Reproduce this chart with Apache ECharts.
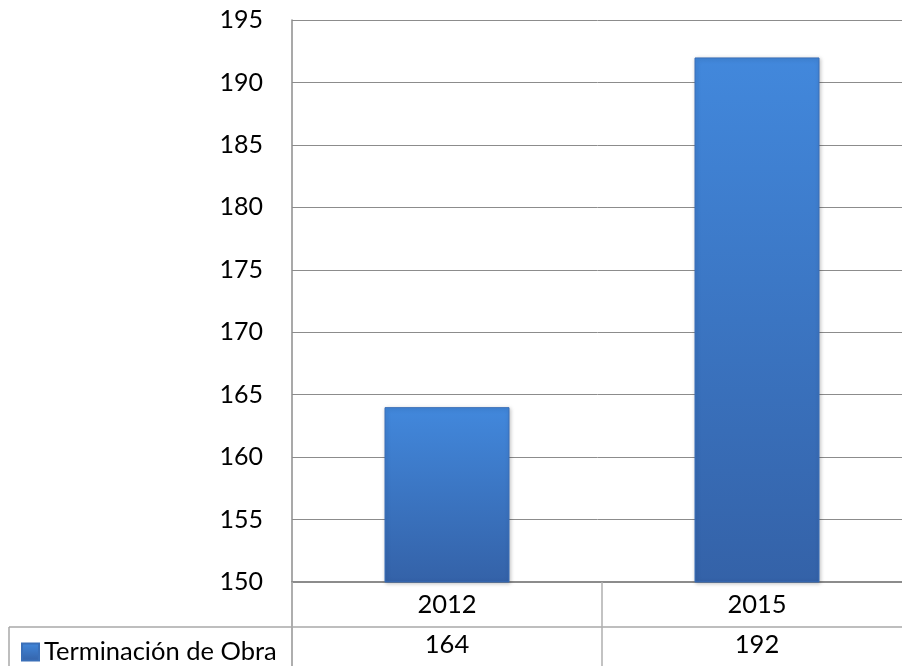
<!DOCTYPE html>
<html>
<head>
<meta charset="utf-8">
<script src="https://cdn.jsdelivr.net/npm/echarts@6/dist/echarts.min.js"></script>
<style>
    html, body { margin: 0; padding: 0; background: #fff; }
    #chart { width: 902px; height: 666px; }
</style>
</head>
<body>
<div id="chart"></div>
<script>
    // datos
    const years = ['2012', '2015'];
    const obras = [164, 192];
    const seriesName = 'Terminación de Obra';

    const font = 'Lato, "Open Sans", sans-serif';
    const lineGray = '#8c8c8c';

    const chart = echarts.init(document.getElementById('chart'));
    chart.setOption({
        animation: false,
        grid: {
            left: 292,
            top: 20,
            width: 620,
            height: 562,
            containLabel: false,
            outerBoundsMode: 'none'
        },
        legend: {
            data: [seriesName],
            left: 16,
            top: 634,
            itemWidth: 17,
            itemHeight: 17,
            itemGap: 6,
            icon: 'rect',
            textStyle: { fontFamily: font, fontSize: 25.5, color: '#000' }
        },
        xAxis: [
            {
                type: 'category',
                data: years,
                axisLine: { lineStyle: { color: lineGray, width: 2 } },
                axisTick: { show: true, inside: false, length: 84, lineStyle: { color: '#b0b0b0', width: 1.5 } },
                axisLabel: { margin: 10, fontFamily: font, fontSize: 25.5, color: '#000' }
            },
            {
                type: 'category',
                position: 'bottom',
                offset: 0,
                data: obras.map(String),
                axisLine: { show: false },
                axisTick: { show: false },
                axisLabel: { margin: 50, fontFamily: font, fontSize: 25.5, color: '#000' }
            }
        ],
        yAxis: {
            type: 'value',
            min: 150,
            max: 195,
            interval: 5,
            axisLine: { show: true, lineStyle: { color: lineGray, width: 1.5 } },
            axisTick: { show: false },
            splitLine: { lineStyle: { color: lineGray, width: 1 } },
            axisLabel: { margin: 29, fontFamily: font, fontSize: 25, color: '#000' }
        },
        series: [
            {
                name: seriesName,
                type: 'bar',
                data: obras,
                barWidth: 125,
                itemStyle: {
                    color: new echarts.graphic.LinearGradient(0, 0, 0, 1, [
                        { offset: 0, color: '#4288dc' },
                        { offset: 1, color: '#3462a8' }
                    ]),
                    borderColor: '#3a6fb8',
                    borderWidth: 1,
                    shadowColor: 'rgba(0,0,0,0.25)',
                    shadowBlur: 4,
                    shadowOffsetX: 1,
                    shadowOffsetY: 1
                }
            }
        ],
        graphic: [
            {
                type: 'line',
                shape: { x1: 9, y1: 627, x2: 902, y2: 627 },
                style: { stroke: '#a8a8a8', lineWidth: 1.5 }
            },
            {
                type: 'line',
                shape: { x1: 9, y1: 627, x2: 9, y2: 666 },
                style: { stroke: '#a8a8a8', lineWidth: 1.5 }
            },
            {
                type: 'line',
                shape: { x1: 292, y1: 582, x2: 292, y2: 666 },
                style: { stroke: lineGray, lineWidth: 1.5 }
            }
        ]
    });
</script>
</body>
</html>
